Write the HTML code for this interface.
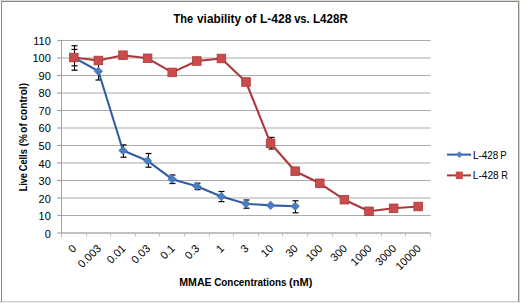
<!DOCTYPE html>
<html><head><meta charset="utf-8"><style>
html,body{margin:0;padding:0;background:#fff;}
svg{display:block;}
text{font-family:"Liberation Sans",sans-serif;fill:#000;}
.tl{font-size:11px;}
.ttl{font-size:12px;font-weight:bold;}
.at{font-size:10px;font-weight:bold;}
.lg{font-size:10.2px;}
</style></head><body>
<svg width="520" height="303" viewBox="0 0 520 303">
<rect x="0" y="0" width="520" height="1" fill="#d3d9d3"/>
<rect x="519" y="0" width="1" height="303" fill="#d3d9d3"/>
<rect x="0" y="301" width="520" height="1" fill="#cdd3cd"/>
<rect x="0" y="302" width="520" height="1" fill="#ebe8ee"/>
<rect x="1" y="1" width="518" height="1" fill="#888888"/>
<rect x="1" y="1" width="1" height="301" fill="#888888"/>
<rect x="518" y="1" width="1" height="301" fill="#888888"/>
<line x1="61.5" y1="215.50" x2="430.5" y2="215.50" stroke="#aaaaaa" stroke-width="1.2"/>
<line x1="61.5" y1="198.00" x2="430.5" y2="198.00" stroke="#aaaaaa" stroke-width="1.2"/>
<line x1="61.5" y1="180.50" x2="430.5" y2="180.50" stroke="#aaaaaa" stroke-width="1.2"/>
<line x1="61.5" y1="163.00" x2="430.5" y2="163.00" stroke="#aaaaaa" stroke-width="1.2"/>
<line x1="61.5" y1="145.50" x2="430.5" y2="145.50" stroke="#aaaaaa" stroke-width="1.2"/>
<line x1="61.5" y1="128.00" x2="430.5" y2="128.00" stroke="#aaaaaa" stroke-width="1.2"/>
<line x1="61.5" y1="110.50" x2="430.5" y2="110.50" stroke="#aaaaaa" stroke-width="1.2"/>
<line x1="61.5" y1="93.00" x2="430.5" y2="93.00" stroke="#aaaaaa" stroke-width="1.2"/>
<line x1="61.5" y1="75.50" x2="430.5" y2="75.50" stroke="#aaaaaa" stroke-width="1.2"/>
<line x1="61.5" y1="58.00" x2="430.5" y2="58.00" stroke="#aaaaaa" stroke-width="1.2"/>
<line x1="61.5" y1="40.50" x2="430.5" y2="40.50" stroke="#aaaaaa" stroke-width="1.2"/>
<line x1="57.4" y1="233.00" x2="61.5" y2="233.00" stroke="#a0a0a0" stroke-width="1.2"/>
<line x1="57.4" y1="215.50" x2="61.5" y2="215.50" stroke="#a0a0a0" stroke-width="1.2"/>
<line x1="57.4" y1="198.00" x2="61.5" y2="198.00" stroke="#a0a0a0" stroke-width="1.2"/>
<line x1="57.4" y1="180.50" x2="61.5" y2="180.50" stroke="#a0a0a0" stroke-width="1.2"/>
<line x1="57.4" y1="163.00" x2="61.5" y2="163.00" stroke="#a0a0a0" stroke-width="1.2"/>
<line x1="57.4" y1="145.50" x2="61.5" y2="145.50" stroke="#a0a0a0" stroke-width="1.2"/>
<line x1="57.4" y1="128.00" x2="61.5" y2="128.00" stroke="#a0a0a0" stroke-width="1.2"/>
<line x1="57.4" y1="110.50" x2="61.5" y2="110.50" stroke="#a0a0a0" stroke-width="1.2"/>
<line x1="57.4" y1="93.00" x2="61.5" y2="93.00" stroke="#a0a0a0" stroke-width="1.2"/>
<line x1="57.4" y1="75.50" x2="61.5" y2="75.50" stroke="#a0a0a0" stroke-width="1.2"/>
<line x1="57.4" y1="58.00" x2="61.5" y2="58.00" stroke="#a0a0a0" stroke-width="1.2"/>
<line x1="57.4" y1="40.50" x2="61.5" y2="40.50" stroke="#a0a0a0" stroke-width="1.2"/>
<line x1="61.5" y1="233.0" x2="430.5" y2="233.0" stroke="#ababab" stroke-width="1.3"/>
<line x1="61.5" y1="40" x2="61.5" y2="237" stroke="#a0a0a0" stroke-width="1"/>
<line x1="61.5" y1="233" x2="61.5" y2="236.5" stroke="#c0c0c0" stroke-width="1"/>
<line x1="86.5" y1="233" x2="86.5" y2="236.5" stroke="#c0c0c0" stroke-width="1"/>
<line x1="110.5" y1="233" x2="110.5" y2="236.5" stroke="#c0c0c0" stroke-width="1"/>
<line x1="135.5" y1="233" x2="135.5" y2="236.5" stroke="#c0c0c0" stroke-width="1"/>
<line x1="159.5" y1="233" x2="159.5" y2="236.5" stroke="#c0c0c0" stroke-width="1"/>
<line x1="184.5" y1="233" x2="184.5" y2="236.5" stroke="#c0c0c0" stroke-width="1"/>
<line x1="209.5" y1="233" x2="209.5" y2="236.5" stroke="#c0c0c0" stroke-width="1"/>
<line x1="233.5" y1="233" x2="233.5" y2="236.5" stroke="#c0c0c0" stroke-width="1"/>
<line x1="258.5" y1="233" x2="258.5" y2="236.5" stroke="#c0c0c0" stroke-width="1"/>
<line x1="282.5" y1="233" x2="282.5" y2="236.5" stroke="#c0c0c0" stroke-width="1"/>
<line x1="307.5" y1="233" x2="307.5" y2="236.5" stroke="#c0c0c0" stroke-width="1"/>
<line x1="332.5" y1="233" x2="332.5" y2="236.5" stroke="#c0c0c0" stroke-width="1"/>
<line x1="356.5" y1="233" x2="356.5" y2="236.5" stroke="#c0c0c0" stroke-width="1"/>
<line x1="381.5" y1="233" x2="381.5" y2="236.5" stroke="#c0c0c0" stroke-width="1"/>
<line x1="405.5" y1="233" x2="405.5" y2="236.5" stroke="#c0c0c0" stroke-width="1"/>
<line x1="430.5" y1="233" x2="430.5" y2="236.5" stroke="#c0c0c0" stroke-width="1"/>
<text x="50.8" y="237.6" text-anchor="end" class="tl">0</text>
<text x="50.8" y="220.1" text-anchor="end" class="tl">10</text>
<text x="50.8" y="202.5" text-anchor="end" class="tl">20</text>
<text x="50.8" y="185.0" text-anchor="end" class="tl">30</text>
<text x="50.8" y="167.5" text-anchor="end" class="tl">40</text>
<text x="50.8" y="149.9" text-anchor="end" class="tl">50</text>
<text x="50.8" y="132.4" text-anchor="end" class="tl">60</text>
<text x="50.8" y="114.8" text-anchor="end" class="tl">70</text>
<text x="50.8" y="97.3" text-anchor="end" class="tl">80</text>
<text x="50.8" y="79.8" text-anchor="end" class="tl">90</text>
<text x="50.8" y="62.2" text-anchor="end" class="tl">100</text>
<text x="50.8" y="44.7" text-anchor="end" class="tl">110</text>
<text x="77.2" y="249.1" text-anchor="end" class="tl" transform="rotate(-45 77.2 249.1)">0</text>
<text x="101.8" y="249.1" text-anchor="end" class="tl" transform="rotate(-45 101.8 249.1)">0.003</text>
<text x="126.4" y="249.1" text-anchor="end" class="tl" transform="rotate(-45 126.4 249.1)">0.01</text>
<text x="151.0" y="249.1" text-anchor="end" class="tl" transform="rotate(-45 151.0 249.1)">0.03</text>
<text x="175.6" y="249.1" text-anchor="end" class="tl" transform="rotate(-45 175.6 249.1)">0.1</text>
<text x="200.2" y="249.1" text-anchor="end" class="tl" transform="rotate(-45 200.2 249.1)">0.3</text>
<text x="224.8" y="249.1" text-anchor="end" class="tl" transform="rotate(-45 224.8 249.1)">1</text>
<text x="249.4" y="249.1" text-anchor="end" class="tl" transform="rotate(-45 249.4 249.1)">3</text>
<text x="274.0" y="249.1" text-anchor="end" class="tl" transform="rotate(-45 274.0 249.1)">10</text>
<text x="298.6" y="249.1" text-anchor="end" class="tl" transform="rotate(-45 298.6 249.1)">30</text>
<text x="323.2" y="249.1" text-anchor="end" class="tl" transform="rotate(-45 323.2 249.1)">100</text>
<text x="347.8" y="249.1" text-anchor="end" class="tl" transform="rotate(-45 347.8 249.1)">300</text>
<text x="372.4" y="249.1" text-anchor="end" class="tl" transform="rotate(-45 372.4 249.1)">1000</text>
<text x="397.0" y="249.1" text-anchor="end" class="tl" transform="rotate(-45 397.0 249.1)">3000</text>
<text x="421.6" y="249.1" text-anchor="end" class="tl" transform="rotate(-45 421.6 249.1)">10000</text>
<line x1="98.5" y1="62.4" x2="98.5" y2="80.0" stroke="#000" stroke-width="1"/><line x1="95.5" y1="62.4" x2="101.5" y2="62.4" stroke="#000" stroke-width="1.2"/><line x1="95.5" y1="80.0" x2="101.5" y2="80.0" stroke="#000" stroke-width="1.2"/>
<line x1="123.5" y1="144.9" x2="123.5" y2="157.2" stroke="#000" stroke-width="1"/><line x1="120.5" y1="144.9" x2="126.5" y2="144.9" stroke="#000" stroke-width="1.2"/><line x1="120.5" y1="157.2" x2="126.5" y2="157.2" stroke="#000" stroke-width="1.2"/>
<line x1="148.5" y1="153.5" x2="148.5" y2="167.2" stroke="#000" stroke-width="1"/><line x1="145.5" y1="153.5" x2="151.5" y2="153.5" stroke="#000" stroke-width="1.2"/><line x1="145.5" y1="167.2" x2="151.5" y2="167.2" stroke="#000" stroke-width="1.2"/>
<line x1="172.5" y1="175.0" x2="172.5" y2="183.5" stroke="#000" stroke-width="1"/><line x1="169.5" y1="175.0" x2="175.5" y2="175.0" stroke="#000" stroke-width="1.2"/><line x1="169.5" y1="183.5" x2="175.5" y2="183.5" stroke="#000" stroke-width="1.2"/>
<line x1="197.5" y1="183.2" x2="197.5" y2="189.6" stroke="#000" stroke-width="1"/><line x1="194.5" y1="183.2" x2="200.5" y2="183.2" stroke="#000" stroke-width="1.2"/><line x1="194.5" y1="189.6" x2="200.5" y2="189.6" stroke="#000" stroke-width="1.2"/>
<line x1="221.5" y1="191.5" x2="221.5" y2="201.6" stroke="#000" stroke-width="1"/><line x1="218.5" y1="191.5" x2="224.5" y2="191.5" stroke="#000" stroke-width="1.2"/><line x1="218.5" y1="201.6" x2="224.5" y2="201.6" stroke="#000" stroke-width="1.2"/>
<line x1="246.5" y1="200.0" x2="246.5" y2="208.2" stroke="#000" stroke-width="1"/><line x1="243.5" y1="200.0" x2="249.5" y2="200.0" stroke="#000" stroke-width="1.2"/><line x1="243.5" y1="208.2" x2="249.5" y2="208.2" stroke="#000" stroke-width="1.2"/>
<line x1="295.5" y1="200.8" x2="295.5" y2="212.8" stroke="#000" stroke-width="1"/><line x1="292.5" y1="200.8" x2="298.5" y2="200.8" stroke="#000" stroke-width="1.2"/><line x1="292.5" y1="212.8" x2="298.5" y2="212.8" stroke="#000" stroke-width="1.2"/>
<polyline points="73.80,57.5 98.40,71.2 123.00,150.5 147.60,160.8 172.20,179.2 196.80,186.2 221.40,196.5 246.00,203.8 270.60,205.4 295.20,206.2" fill="none" stroke="#325DA5" stroke-width="2.1" stroke-linejoin="round"/>
<path d="M73.80 53.20 L78.10 57.5 L73.80 61.80 L69.50 57.5 Z" fill="#4A7CC0" stroke="#3a68ad" stroke-width="0.5"/>
<path d="M98.40 66.90 L102.70 71.2 L98.40 75.50 L94.10 71.2 Z" fill="#4A7CC0" stroke="#3a68ad" stroke-width="0.5"/>
<path d="M123.00 146.20 L127.30 150.5 L123.00 154.80 L118.70 150.5 Z" fill="#4A7CC0" stroke="#3a68ad" stroke-width="0.5"/>
<path d="M147.60 156.50 L151.90 160.8 L147.60 165.10 L143.30 160.8 Z" fill="#4A7CC0" stroke="#3a68ad" stroke-width="0.5"/>
<path d="M172.20 174.90 L176.50 179.2 L172.20 183.50 L167.90 179.2 Z" fill="#4A7CC0" stroke="#3a68ad" stroke-width="0.5"/>
<path d="M196.80 181.90 L201.10 186.2 L196.80 190.50 L192.50 186.2 Z" fill="#4A7CC0" stroke="#3a68ad" stroke-width="0.5"/>
<path d="M221.40 192.20 L225.70 196.5 L221.40 200.80 L217.10 196.5 Z" fill="#4A7CC0" stroke="#3a68ad" stroke-width="0.5"/>
<path d="M246.00 199.50 L250.30 203.8 L246.00 208.10 L241.70 203.8 Z" fill="#4A7CC0" stroke="#3a68ad" stroke-width="0.5"/>
<path d="M270.60 201.10 L274.90 205.4 L270.60 209.70 L266.30 205.4 Z" fill="#4A7CC0" stroke="#3a68ad" stroke-width="0.5"/>
<path d="M295.20 201.90 L299.50 206.2 L295.20 210.50 L290.90 206.2 Z" fill="#4A7CC0" stroke="#3a68ad" stroke-width="0.5"/>
<line x1="74.5" y1="45.8" x2="74.5" y2="70.2" stroke="#000" stroke-width="1"/><line x1="71.5" y1="45.8" x2="77.5" y2="45.8" stroke="#000" stroke-width="1.2"/><line x1="71.5" y1="70.2" x2="77.5" y2="70.2" stroke="#000" stroke-width="1.2"/>
<line x1="74.5" y1="49.4" x2="74.5" y2="65.8" stroke="#000" stroke-width="1"/><line x1="71.5" y1="49.4" x2="77.5" y2="49.4" stroke="#000" stroke-width="1.2"/><line x1="71.5" y1="65.8" x2="77.5" y2="65.8" stroke="#000" stroke-width="1.2"/>
<line x1="271.5" y1="137.4" x2="271.5" y2="149.0" stroke="#000" stroke-width="1"/><line x1="268.5" y1="137.4" x2="274.5" y2="137.4" stroke="#000" stroke-width="1.2"/><line x1="268.5" y1="149.0" x2="274.5" y2="149.0" stroke="#000" stroke-width="1.2"/>
<polyline points="73.80,57.5 98.40,60.5 123.00,55.2 147.60,58.3 172.20,72.4 196.80,61 221.40,58.5 246.00,82 270.60,143.3 295.20,171.2 319.80,183.3 344.40,199.7 369.00,211.3 393.60,208.3 418.20,206.5" fill="none" stroke="#AC383C" stroke-width="2.1" stroke-linejoin="round"/>
<rect x="69.50" y="53.20" width="8.6" height="8.6" fill="#C94C4A" stroke="#a83c3c" stroke-width="0.8"/>
<rect x="94.10" y="56.20" width="8.6" height="8.6" fill="#C94C4A" stroke="#a83c3c" stroke-width="0.8"/>
<rect x="118.70" y="50.90" width="8.6" height="8.6" fill="#C94C4A" stroke="#a83c3c" stroke-width="0.8"/>
<rect x="143.30" y="54.00" width="8.6" height="8.6" fill="#C94C4A" stroke="#a83c3c" stroke-width="0.8"/>
<rect x="167.90" y="68.10" width="8.6" height="8.6" fill="#C94C4A" stroke="#a83c3c" stroke-width="0.8"/>
<rect x="192.50" y="56.70" width="8.6" height="8.6" fill="#C94C4A" stroke="#a83c3c" stroke-width="0.8"/>
<rect x="217.10" y="54.20" width="8.6" height="8.6" fill="#C94C4A" stroke="#a83c3c" stroke-width="0.8"/>
<rect x="241.70" y="77.70" width="8.6" height="8.6" fill="#C94C4A" stroke="#a83c3c" stroke-width="0.8"/>
<rect x="266.30" y="139.00" width="8.6" height="8.6" fill="#C94C4A" stroke="#a83c3c" stroke-width="0.8"/>
<rect x="290.90" y="166.90" width="8.6" height="8.6" fill="#C94C4A" stroke="#a83c3c" stroke-width="0.8"/>
<rect x="315.50" y="179.00" width="8.6" height="8.6" fill="#C94C4A" stroke="#a83c3c" stroke-width="0.8"/>
<rect x="340.10" y="195.40" width="8.6" height="8.6" fill="#C94C4A" stroke="#a83c3c" stroke-width="0.8"/>
<rect x="364.70" y="207.00" width="8.6" height="8.6" fill="#C94C4A" stroke="#a83c3c" stroke-width="0.8"/>
<rect x="389.30" y="204.00" width="8.6" height="8.6" fill="#C94C4A" stroke="#a83c3c" stroke-width="0.8"/>
<rect x="413.90" y="202.20" width="8.6" height="8.6" fill="#C94C4A" stroke="#a83c3c" stroke-width="0.8"/>
<text x="173.48" y="22.6" class="ttl" textLength="19.60" lengthAdjust="spacingAndGlyphs">The</text>
<text x="197.05" y="22.6" class="ttl" textLength="43.91" lengthAdjust="spacingAndGlyphs">viability</text>
<text x="244.71" y="22.6" class="ttl" textLength="11.76" lengthAdjust="spacingAndGlyphs">of</text>
<text x="259.99" y="22.6" class="ttl" textLength="31.48" lengthAdjust="spacingAndGlyphs">L-428</text>
<text x="294.16" y="22.6" class="ttl" textLength="15.51" lengthAdjust="spacingAndGlyphs">vs.</text>
<text x="313.02" y="22.6" class="ttl" textLength="34.81" lengthAdjust="spacingAndGlyphs">L428R</text>
<g transform="translate(26.8 0) rotate(-90)">
<text x="-191.31" y="0" class="at" textLength="18.12" lengthAdjust="spacingAndGlyphs">Live</text>
<text x="-171.28" y="0" class="at" textLength="22.06" lengthAdjust="spacingAndGlyphs">Cells</text>
<text x="-146.30" y="0" class="at" textLength="12.16" lengthAdjust="spacingAndGlyphs">(%</text>
<text x="-132.69" y="0" class="at" textLength="9.47" lengthAdjust="spacingAndGlyphs">of</text>
<text x="-120.59" y="0" class="at" textLength="37.60" lengthAdjust="spacingAndGlyphs">control)</text>
</g>
<text x="179.29" y="285.5" class="at" textLength="32.42" lengthAdjust="spacingAndGlyphs">MMAE</text>
<text x="214.20" y="285.5" class="at" textLength="72.41" lengthAdjust="spacingAndGlyphs">Concentrations</text>
<text x="289.05" y="285.5" class="at" textLength="23.30" lengthAdjust="spacingAndGlyphs">(nM)</text>
<line x1="447" y1="154.6" x2="471" y2="154.6" stroke="#325DA5" stroke-width="2"/>
<path d="M459.4 151.2 L462.6 154.6 L459.4 158 L456.2 154.6 Z" fill="#4A7CC0"/>
<text x="472.89" y="158.5" class="lg" textLength="25.34" lengthAdjust="spacingAndGlyphs">L-428</text>
<text x="500.31" y="158.5" class="lg" textLength="6.39" lengthAdjust="spacingAndGlyphs">P</text>
<line x1="447" y1="175.4" x2="471" y2="175.4" stroke="#AC383C" stroke-width="2"/>
<rect x="455.8" y="171.6" width="7" height="7.5" fill="#C94C4A"/>
<text x="472.87" y="178.6" class="lg" textLength="25.87" lengthAdjust="spacingAndGlyphs">L-428</text>
<text x="501.14" y="178.6" class="lg" textLength="6.69" lengthAdjust="spacingAndGlyphs">R</text>
</svg>
</body></html>
